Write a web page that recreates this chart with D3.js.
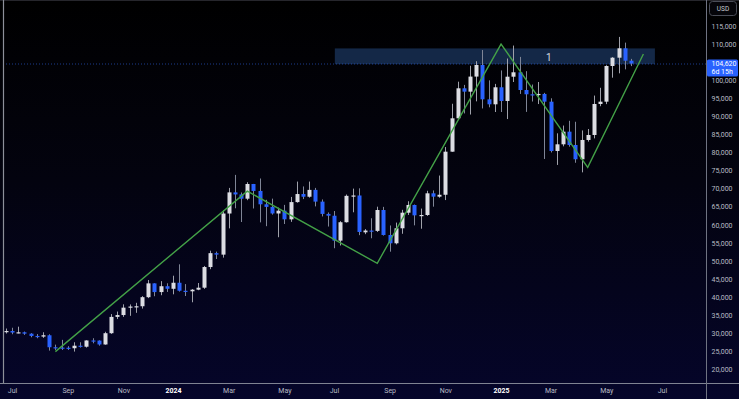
<!DOCTYPE html>
<html><head><meta charset="utf-8">
<script src="https://cdn.jsdelivr.net/npm/d3@7"></script>
<style>html,body{margin:0;padding:0;background:#000;overflow:hidden}svg{display:block}</style>
</head><body>
<script>
// ---- data (weekly candles, BTC/USD) ----
const weeks = ["2023-06-26","2023-07-03","2023-07-10","2023-07-17","2023-07-24","2023-07-31","2023-08-07","2023-08-14","2023-08-21","2023-08-28",
"2023-09-04","2023-09-11","2023-09-18","2023-09-25","2023-10-02","2023-10-09","2023-10-16","2023-10-23","2023-10-30","2023-11-06",
"2023-11-13","2023-11-20","2023-11-27","2023-12-04","2023-12-11","2023-12-18","2023-12-25","2024-01-01","2024-01-08","2024-01-15",
"2024-01-22","2024-01-29","2024-02-05","2024-02-12","2024-02-19","2024-02-26","2024-03-04","2024-03-11","2024-03-18","2024-03-25",
"2024-04-01","2024-04-08","2024-04-15","2024-04-22","2024-04-29","2024-05-06","2024-05-13","2024-05-20","2024-05-27","2024-06-03",
"2024-06-10","2024-06-17","2024-06-24","2024-07-01","2024-07-08","2024-07-15","2024-07-22","2024-07-29","2024-08-05","2024-08-12",
"2024-08-19","2024-08-26","2024-09-02","2024-09-09","2024-09-16","2024-09-23","2024-09-30","2024-10-07","2024-10-14","2024-10-21",
"2024-10-28","2024-11-04","2024-11-11","2024-11-18","2024-11-25","2024-12-02","2024-12-09","2024-12-16","2024-12-23","2024-12-30",
"2025-01-06","2025-01-13","2025-01-20","2025-01-27","2025-02-03","2025-02-10","2025-02-17","2025-02-24","2025-03-03","2025-03-10",
"2025-03-17","2025-03-24","2025-03-31","2025-04-07","2025-04-14","2025-04-21","2025-04-28","2025-05-05","2025-05-12","2025-05-19",
"2025-05-26","2025-06-02"];
const opens = [30470,30590,30170,30240,29860,29230,29050,29420,26100,26010,
25970,25830,26530,26250,27980,27950,26870,29990,34500,35010,
37060,37370,37450,39960,43780,41370,42990,42280,43950,41730,
41580,42030,42580,48300,52140,51730,63110,68960,68390,67210,
71280,69360,65660,64940,63120,63900,61500,66270,68500,67750,
69650,66400,63000,62500,55600,60700,68000,68100,57900,58400,
58300,64080,57170,54870,59020,63340,65470,62600,62700,68700,
67770,68300,80220,89460,97760,96830,101000,104210,94710,93330,
98040,94250,100970,102190,97290,96100,95900,96200,94060,80410,
82260,85760,82070,78120,83460,84840,93420,94060,103930,106230,
108830,105400];
const highs = [31280,31500,31800,30440,29990,29750,30250,29690,26820,28150,
26400,27480,27480,28050,28600,28000,30380,35280,35980,37980,
37950,38400,40250,44700,43800,44400,43800,45900,49050,43580,
42200,43880,48600,52820,52570,64000,70200,73800,68930,71770,
71300,72800,66900,67230,64730,65500,67700,71950,70600,71950,
70200,67000,63400,63800,61000,68370,70000,70080,58800,61800,
65000,64950,59800,60600,64130,66500,65600,64480,69400,69500,
73620,81500,93480,99590,98700,104000,105250,108350,99960,98980,
102700,106000,109590,106450,102500,98800,99500,96500,95000,85300,
87450,88770,88500,86100,86500,95750,97900,104150,106400,111980,
110400,105900];
const lows = [29900,29700,29950,29520,28860,28600,28700,25170,25350,25350,
25360,24900,26000,26000,27200,26540,26800,29800,33900,34500,
34800,35630,36800,39700,40220,40500,41400,40750,41500,40280,
38550,41880,42250,47700,50520,50900,59000,64550,60760,66800,
64500,60660,59600,62800,56550,60200,60800,66100,67100,67500,
65080,62300,59500,53500,54260,60600,63450,57120,57400,56260,
58000,57000,52550,54560,57500,62700,59830,58900,62450,65000,
67480,66830,80200,89380,90800,90500,94150,92180,92500,91200,
91200,89250,99500,96200,91230,94100,93400,78200,80000,76550,
81700,81600,77150,74500,83000,83900,92800,93380,100700,101900,
103000,103900];
const closes = [30590,30170,30240,29860,29230,29050,29420,26100,26010,25970,
25830,26530,26250,27980,27950,26870,29990,34500,35010,37060,
37370,37450,39960,43780,41370,42990,42280,43950,41730,41580,
42030,42580,48300,52140,51730,63110,68960,68390,67210,71280,
69360,65660,64940,63120,63900,61500,66270,68500,67750,69650,
66400,63000,62500,55600,60700,68000,68100,58000,58400,58300,
64080,57170,54870,59020,63340,65470,62600,62700,68700,67770,
68300,80220,89460,97760,96830,101000,104210,94710,93330,98040,
94250,100970,102190,97290,96100,95900,96200,94060,80410,82260,
85760,82070,78120,83460,84840,93420,94060,103930,106230,108830,
105400,104620];

// axis ticks
const priceTicks = [20000,25000,30000,35000,40000,45000,50000,55000,60000,65000,70000,75000,80000,85000,90000,95000,100000,105000,110000,115000];
const monthTickDates = ["2023-07-03","2023-09-04","2023-11-06","2024-01-01","2024-03-04","2024-05-06","2024-07-01","2024-09-02","2024-11-04","2025-01-06","2025-03-03","2025-05-05","2025-07-07"];
const monthTickLabels = ["Jul","Sep","Nov","2024","Mar","May","Jul","Sep","Nov","2025","Mar","May","Jul"];

// drawing: zig-zag trend line
const trendDates = ["2023-08-21","2024-03-25","2024-08-19","2025-01-06","2025-04-14","2025-06-16"];
const trendPrices = [24900,69300,49340,110000,75900,107250];

// zone rectangle
const zoneDates = ["2024-07-02","2025-06-29"];
const zonePrices = [104450,108800];
const zoneLabel = "1";
const zoneLabelDate = "2025-03-01";

const lastPrice = 104620;
const lastPriceLabel = "104,620";
const countdownLabel = "6d 15h";
const currencyLabel = "USD";

// ---- layout ----
const W = 739, H = 399;
const plotRight = 706.5, plotBottom = 383;
const parse = d3.utcParse("%Y-%m-%d");
const fmt = d3.format(",");

const candles = weeks.map((w,i)=>({d:parse(w),o:opens[i],h:highs[i],l:lows[i],c:closes[i]}));

const x = d3.scaleUtc()
  .domain([parse("2023-06-19"), parse("2025-08-25")])
  .range([-0.3, 705.3]);
const y = d3.scaleLinear().domain([20000,115000]).range([369.3, 26]);

const svg = d3.select("body").append("svg").attr("width",W).attr("height",H)
  .style("font-family","Roboto, 'Liberation Sans', sans-serif");

const defs = svg.append("defs");
const grad = defs.append("linearGradient").attr("id","bg").attr("x1",0).attr("y1",0).attr("x2",0).attr("y2",1);
grad.append("stop").attr("offset","0%").attr("stop-color","#000000");
grad.append("stop").attr("offset","45%").attr("stop-color","#03030f");
grad.append("stop").attr("offset","100%").attr("stop-color","#05052a");
defs.append("clipPath").attr("id","plot").append("rect")
  .attr("x",4).attr("y",1).attr("width",plotRight-4).attr("height",plotBottom-1);

svg.append("rect").attr("width",W).attr("height",H).attr("fill","url(#bg)");
svg.append("rect").attr("x",0).attr("y",0).attr("width",W).attr("height",1).attr("fill","#26262c");

const plot = svg.append("g").attr("clip-path","url(#plot)");

// zone box
plot.append("rect")
  .attr("x",x(parse(zoneDates[0])))
  .attr("y",y(zonePrices[1]))
  .attr("width",x(parse(zoneDates[1]))-x(parse(zoneDates[0])))
  .attr("height",y(zonePrices[0])-y(zonePrices[1]))
  .attr("fill","#162b4d").attr("fill-opacity",0.92);

// last price dotted line
plot.append("line")
  .attr("x1",0).attr("x2",plotRight)
  .attr("y1",y(lastPrice)+0.5).attr("y2",y(lastPrice)+0.5)
  .attr("stroke","#2a55c8").attr("stroke-opacity",0.7).attr("stroke-width",1)
  .attr("stroke-dasharray","1,2");

// candles
const up = "#dcdde3", down = "#2962ff";
const cg = plot.append("g");
cg.selectAll("line.wick").data(candles).join("line")
  .attr("class","wick")
  .attr("x1",d=>Math.round(x(d.d))+0.5).attr("x2",d=>Math.round(x(d.d))+0.5)
  .attr("y1",d=>y(d.h)).attr("y2",d=>y(d.l))
  .attr("stroke",d=>d.c>=d.o? "#9fa1aa":"#7f8596").attr("stroke-width",1);
cg.selectAll("rect.body").data(candles).join("rect")
  .attr("class","body")
  .attr("x",d=>Math.round(x(d.d))-1.5)
  .attr("width",4)
  .attr("y",d=>y(Math.max(d.o,d.c)))
  .attr("height",d=>Math.max(1.2, Math.abs(y(d.o)-y(d.c))))
  .attr("fill",d=>d.c>=d.o? up:down);

// trend line
const tl = trendDates.map((t,i)=>[x(parse(t)), y(trendPrices[i])]);
plot.append("path").attr("d",d3.line()(tl))
  .attr("fill","none").attr("stroke","#43a047").attr("stroke-width",1.4)
  .attr("stroke-linejoin","miter");

// zone label
plot.append("text")
  .attr("x",x(parse(zoneLabelDate)))
  .attr("y",(y(zonePrices[0])+y(zonePrices[1]))/2+1)
  .attr("dy","0.35em").attr("text-anchor","middle")
  .attr("fill","#d8dae0").attr("font-size",10).text(zoneLabel);

// frame lines
svg.append("line").attr("x1",3.5).attr("x2",3.5).attr("y1",0).attr("y2",plotBottom)
  .attr("stroke","#8d909a").attr("stroke-width",1.2);
svg.append("line").attr("x1",0).attr("x2",W).attr("y1",plotBottom+0.5).attr("y2",plotBottom+0.5)
  .attr("stroke","#7f8392").attr("stroke-width",1);
svg.append("line").attr("x1",plotRight).attr("x2",plotRight).attr("y1",0).attr("y2",H)
  .attr("stroke","#6f7382").attr("stroke-width",1);

// right price axis
const yAxis = d3.axisRight(y).tickValues(priceTicks).tickFormat(fmt).tickSizeInner(0).tickSizeOuter(0).tickPadding(5);
const ya = svg.append("g").attr("transform",`translate(${plotRight},0)`).call(yAxis);
ya.select(".domain").remove();
ya.selectAll("text").attr("fill","#b8bbc4").attr("font-size",7).attr("font-family","Roboto, 'Liberation Sans', sans-serif");

// bottom time axis
const xAxis = d3.axisBottom(x).tickValues(monthTickDates.map(parse))
  .tickFormat((d,i)=>monthTickLabels[i]).tickSizeInner(0).tickSizeOuter(0).tickPadding(5);
const xa = svg.append("g").attr("transform",`translate(0,${plotBottom})`).call(xAxis);
xa.select(".domain").remove();
xa.selectAll("text").attr("font-size",7).attr("font-family","Roboto, 'Liberation Sans', sans-serif")
  .attr("fill",(d,i)=>/^\d{4}$/.test(monthTickLabels[i])? "#ffffff":"#b8bbc4")
  .attr("font-weight",(d,i)=>/^\d{4}$/.test(monthTickLabels[i])? "bold":"normal");

// currency box
svg.append("rect").attr("x",709.5).attr("y",1.5).attr("width",27).attr("height",14).attr("rx",3)
  .attr("fill","#05050a").attr("stroke","#4a4d58").attr("stroke-width",1);
svg.append("text").attr("x",723).attr("y",8.7).attr("dy","0.35em").attr("text-anchor","middle")
  .attr("fill","#c8cad2").attr("font-size",6.5).text(currencyLabel);

// last price label
const ly = y(lastPrice);
svg.append("rect").attr("x",plotRight+0.5).attr("y",ly-4).attr("width",W-plotRight-1.5).attr("height",17).attr("rx",1.5)
  .attr("fill","#2962ff");
svg.append("text").attr("x",711.5).attr("y",ly).attr("dy","0.35em").attr("fill","#ffffff").attr("font-size",7).text(lastPriceLabel);
svg.append("text").attr("x",711.5).attr("y",ly+8).attr("dy","0.35em").attr("fill","#ffffff").attr("font-size",7).text(countdownLabel);
</script>
</body></html>
